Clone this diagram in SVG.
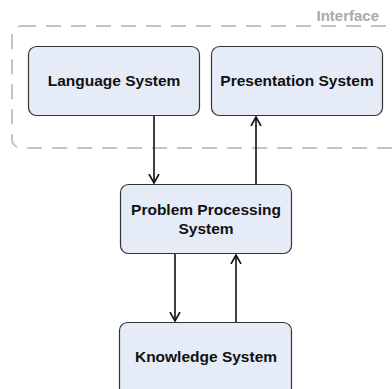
<svg xmlns="http://www.w3.org/2000/svg" width="392" height="389" viewBox="0 0 392 389">
<defs>
<style>
.box{fill:#e6ecf7;stroke:#333;stroke-width:1.2}
.lbl{font-family:"Liberation Sans",Arial,sans-serif;font-weight:bold;font-size:15.5px;fill:#111;text-anchor:middle}
.edge{stroke:#111;stroke-width:1.6;fill:none}
</style>
<marker id="ah" viewBox="0 0 10 12" refX="9" refY="6" markerWidth="10" markerHeight="12" markerUnits="userSpaceOnUse" orient="auto">
<path d="M0,1 L9,6 L0,11" fill="none" stroke="#111" stroke-width="1.6"/>
</marker>
</defs>
<rect width="392" height="389" fill="#fff"/>
<g id="interface">
<rect x="12" y="26" width="400" height="122" rx="9" fill="none" stroke="#c4c4c4" stroke-width="2" stroke-dasharray="15 10"/>
<text x="379" y="21" font-family="Liberation Sans,Arial,sans-serif" font-weight="bold" font-size="15px" fill="#aaa" text-anchor="end">Interface</text>
</g>
<g id="language">
<rect class="box" x="28.5" y="46.5" width="171" height="69" rx="8"/>
<text class="lbl" x="114" y="86">Language System</text>
</g>
<g id="presentation">
<rect class="box" x="211.5" y="46.5" width="171" height="69" rx="8"/>
<text class="lbl" x="297" y="86">Presentation System</text>
</g>
<g id="problem">
<rect class="box" x="120.5" y="184.5" width="171" height="69" rx="8"/>
<text class="lbl" x="206" y="215">Problem Processing</text>
<text class="lbl" x="206" y="234">System</text>
</g>
<g id="knowledge">
<rect class="box" x="119.5" y="322.5" width="172" height="80" rx="8"/>
<text class="lbl" x="206" y="362">Knowledge System</text>
</g>
<g id="connectors">
<line class="edge" x1="154" y1="116" x2="154" y2="183" marker-end="url(#ah)"/>
<line class="edge" x1="256" y1="184" x2="256" y2="117" marker-end="url(#ah)"/>
<line class="edge" x1="175" y1="254" x2="175" y2="321" marker-end="url(#ah)"/>
<line class="edge" x1="236" y1="322" x2="236" y2="255" marker-end="url(#ah)"/>
</g>
</svg>
